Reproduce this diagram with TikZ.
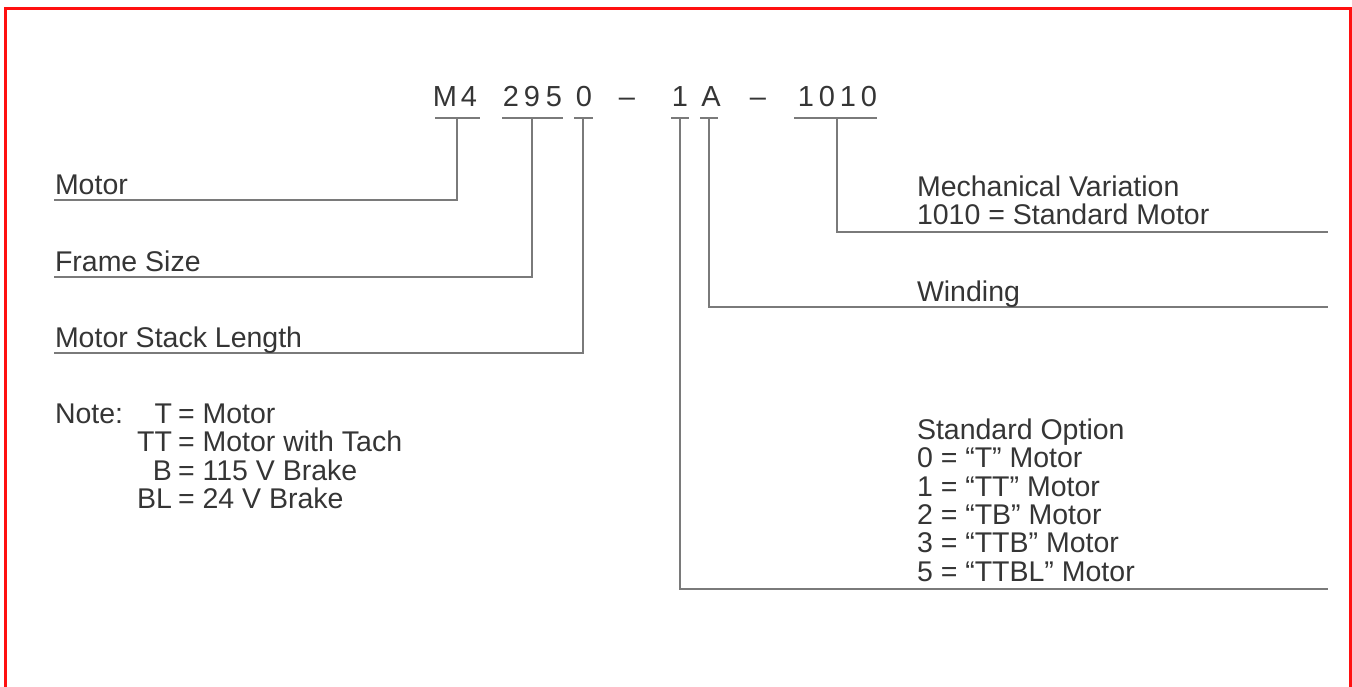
\documentclass[tikz,border=0pt]{standalone}
\usepackage{fontspec}
\setmainfont{Liberation Sans}
\definecolor{txt}{HTML}{353535}
\definecolor{ln}{HTML}{7A7A7A}
\definecolor{frame}{HTML}{FF1010}
\begin{document}
\begin{tikzpicture}[x=1pt,y=-1pt,
  lbl/.style={inner sep=0pt,outer sep=0pt,anchor=base west,text=txt,font=\fontsize{28.5}{28.3}\selectfont,align=left},
  lblr/.style={lbl,anchor=base east},
  code/.style={inner sep=0pt,outer sep=0pt,anchor=base,text=txt,font=\fontsize{29}{29}\selectfont},
  conn/.style={draw=ln,line width=2pt},
  border/.style={draw=frame,line width=3pt}]
\useasboundingbox (0,0) rectangle (1352,687);
% red frame
\coordinate (fbl) at (5.5,690);
\coordinate (ftl) at (5.5,8.5);
\coordinate (ftr) at (1350.5,8.5);
\coordinate (fbr) at (1350.5,690);
\draw[border] (fbl) -- (ftl) -- (ftr) -- (fbr);
% code characters
\foreach \ch/\x [count=\i] in {M/445,4/469,2/511,9/532,5/554,0/584,–/627,1/680,A/711,–/758,1/806,0/827,1/848,0/869}
  \node[code] (c\i) at (\x,107) {\ch};
% underlines
\coordinate (u1a) at (435,118); \coordinate (u1b) at (480,118);
\coordinate (u2a) at (502,118); \coordinate (u2b) at (563,118);
\coordinate (u3a) at (574,118); \coordinate (u3b) at (593,118);
\coordinate (u4a) at (671,118); \coordinate (u4b) at (689,118);
\coordinate (u5a) at (700,118); \coordinate (u5b) at (718,118);
\coordinate (u6a) at (794,118); \coordinate (u6b) at (877,118);
\foreach \k in {1,...,6} \draw[conn] (u\k a) -- (u\k b);
% branch points
\coordinate (m1) at (457,118);
\coordinate (m2) at (532,118);
\coordinate (m3) at (583,118);
\coordinate (m4) at (680,118);
\coordinate (m5) at (709,118);
\coordinate (m6) at (837,118);
% line ends
\coordinate (e1) at (54,200);
\coordinate (e2) at (54,277);
\coordinate (e3) at (54,353);
\coordinate (e4) at (1328,589);
\coordinate (e5) at (1328,307);
\coordinate (e6) at (1328,232);
\foreach \k in {1,...,6} \draw[conn] (m\k) |- (e\k);
% left labels
\node[lbl] (motor) at (55,195) {Motor};
\node[lbl] (frame) at (55,271) {Frame Size};
\node[lbl] (stack) at (55,347) {Motor Stack Length};
% note
\node[lbl] (note) at (55,423) {Note:};
\node[lblr] (n1l) at (172,423) {T};
\node[lbl] (n1r) at (178,423) {= Motor};
\node[lblr] (n2l) at (172,451.5) {TT};
\node[lbl] (n2r) at (178,451.5) {= Motor with Tach};
\node[lblr] (n3l) at (172,480) {B};
\node[lbl] (n3r) at (178,480) {= 115 V Brake};
\node[lblr] (n4l) at (172,508.5) {BL};
\node[lbl] (n4r) at (178,508.5) {= 24 V Brake};
% right labels (base anchor = last line)
\node[lbl] (mech) at (917,225) {Mechanical Variation\\1010 = Standard Motor};
\node[lbl] (wind) at (917,301) {Winding};
\node[lbl] (stdopt) at (917,581) {Standard Option\\0 = “T” Motor\\1 = “TT” Motor\\2 = “TB” Motor\\3 = “TTB” Motor\\5 = “TTBL” Motor};
\end{tikzpicture}
\end{document}
